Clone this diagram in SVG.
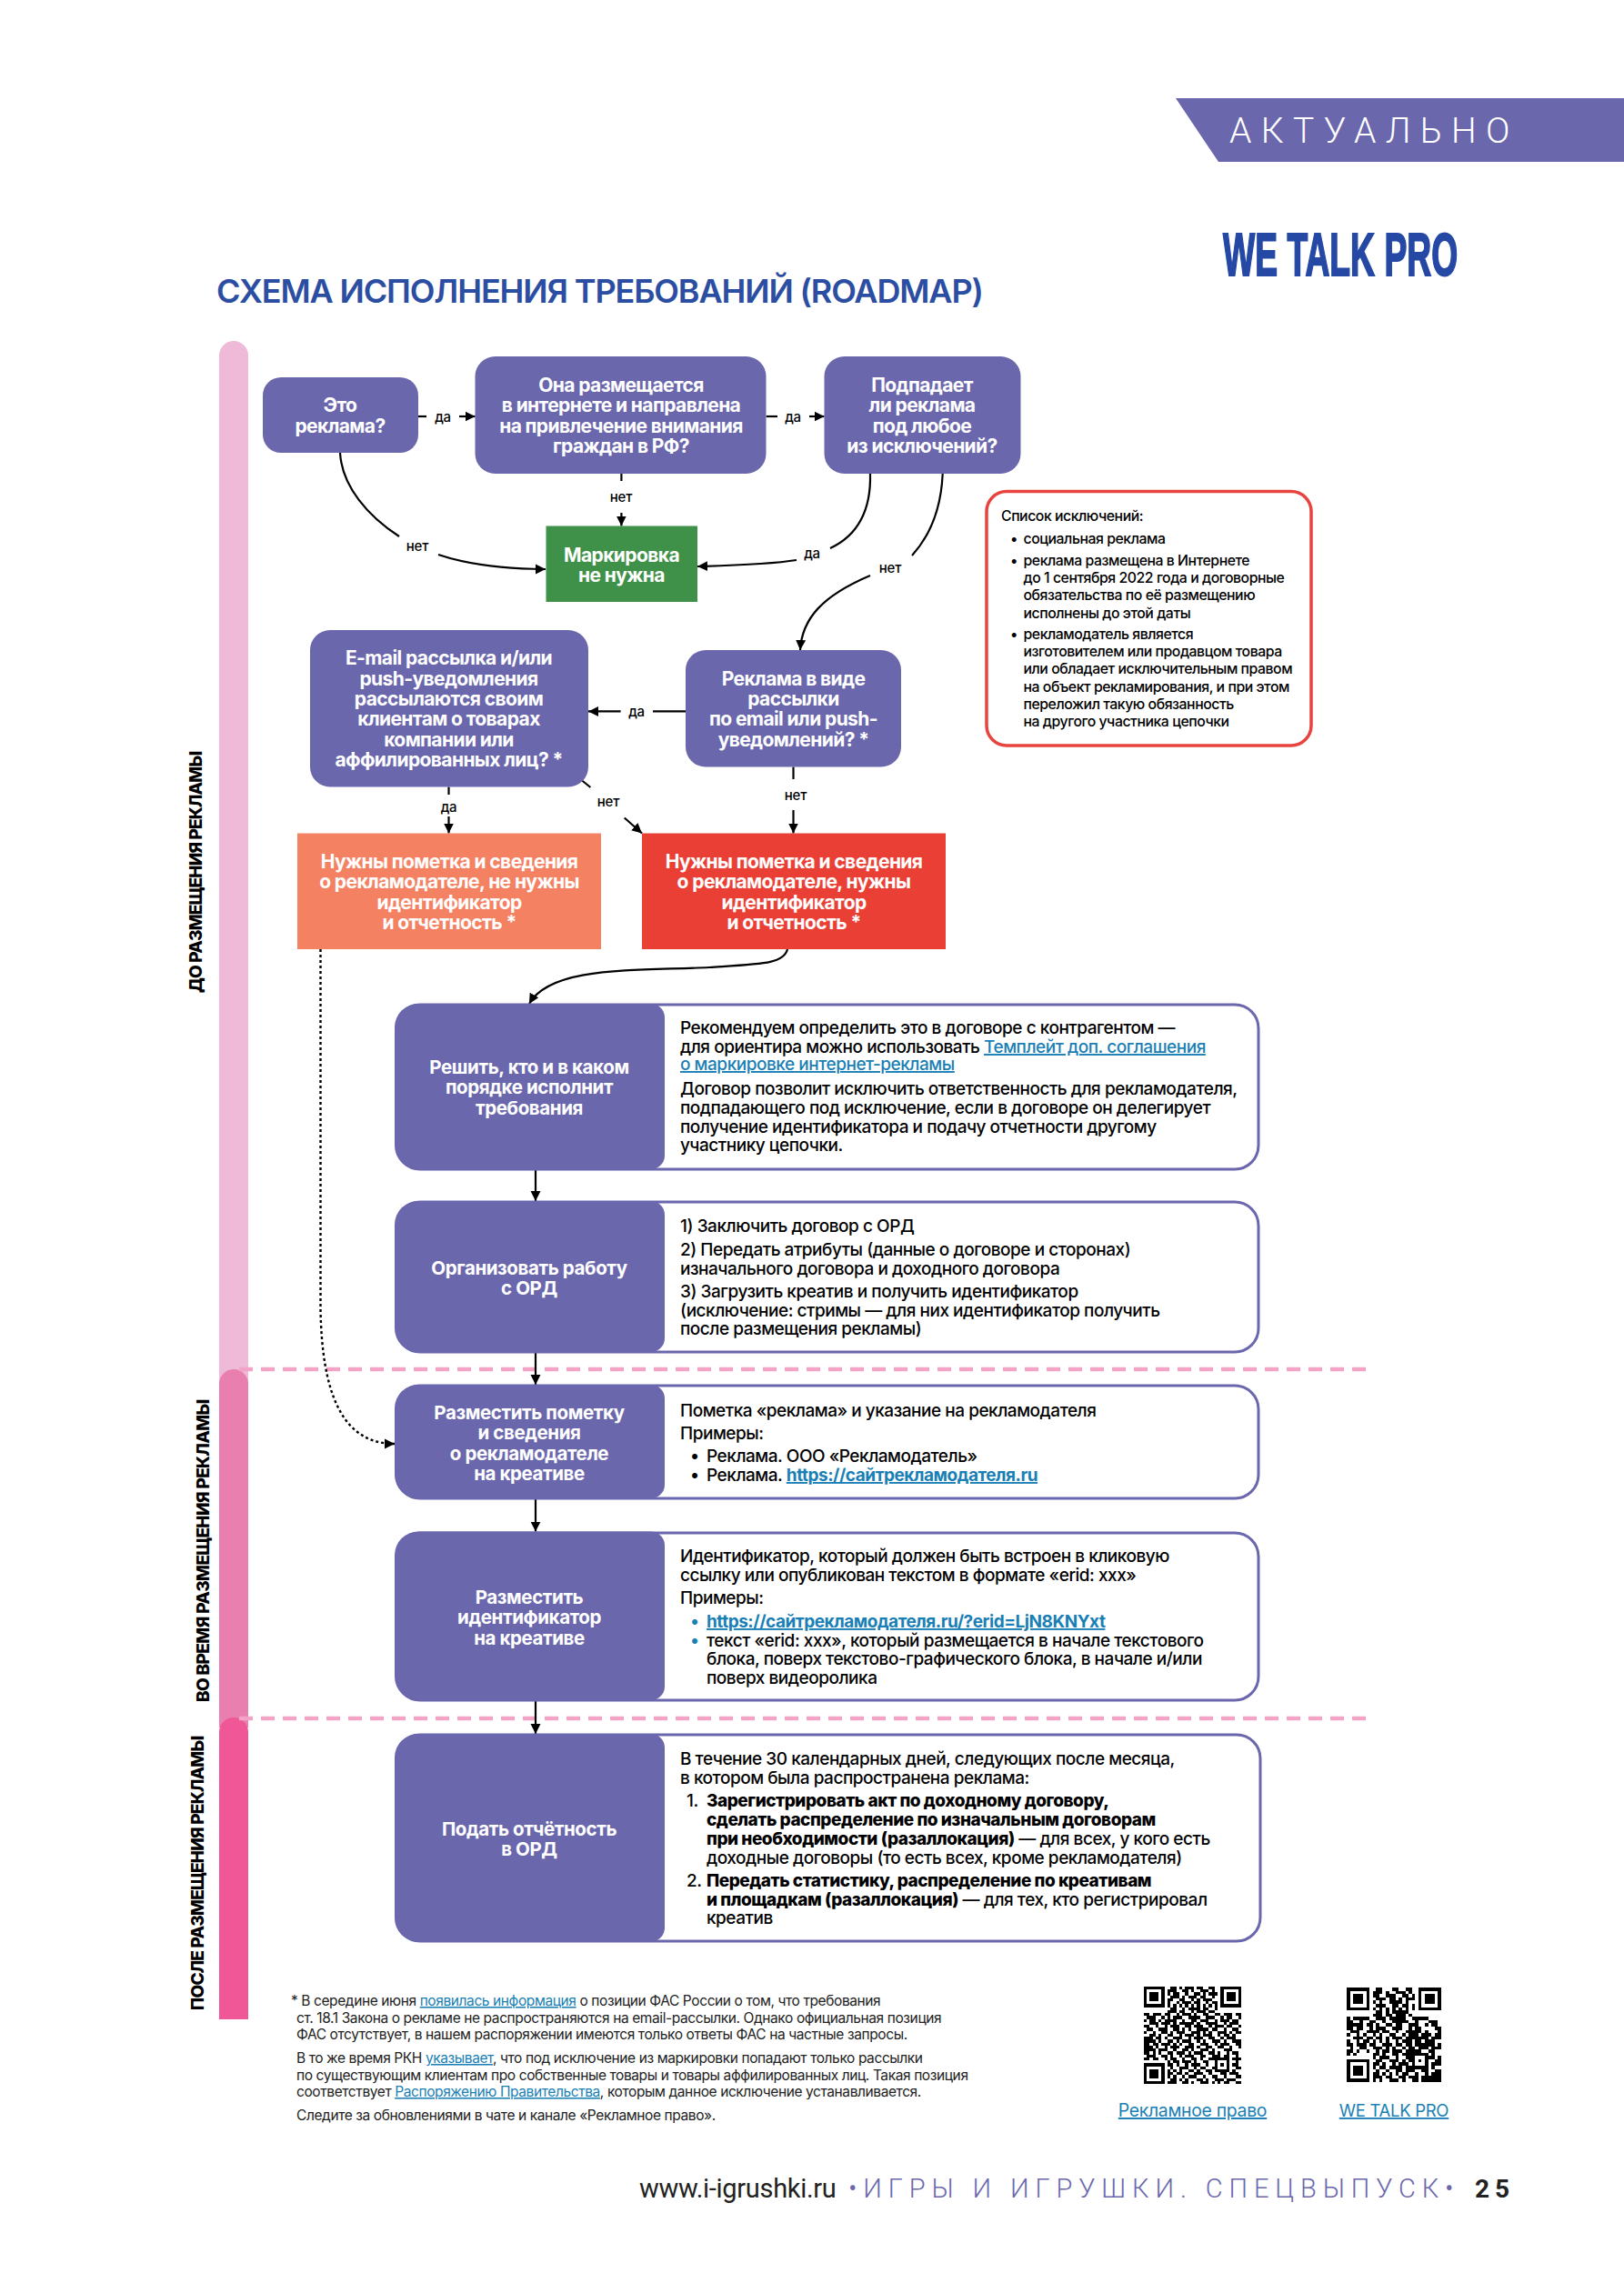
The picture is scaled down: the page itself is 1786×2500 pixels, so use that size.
<svg xmlns="http://www.w3.org/2000/svg" width="1786" height="2500" viewBox="0 0 1786 2500">
<style>
text{font-family:"Inter","Noto Sans",sans-serif;}
.n{font-size:21px;font-weight:700;fill:#fff;text-anchor:middle;letter-spacing:-.6px}
.s{font-size:20.5px;font-weight:700;fill:#fff;text-anchor:middle;letter-spacing:-.4px}
.b{font-size:19px;font-weight:500;fill:#000;letter-spacing:-.47px}
.l{fill:#1a7fb5;text-decoration:underline}
.ll{fill:#1a7fb5;text-decoration:underline;font-weight:700}
.h{font-weight:800}
.e{font-size:15.8px;font-weight:500;fill:#000;letter-spacing:-.45px}
.f{font-size:15.5px;font-weight:400;fill:#222;letter-spacing:-.4px}
.c{font-size:15px;font-weight:500;fill:#000;text-anchor:middle;letter-spacing:-.2px}
.side{font-size:19px;font-weight:800;fill:#000;letter-spacing:-.2px}
.card{fill:#fff;stroke:#6b67ad;stroke-width:3}
.dark{fill:#6b67ad}
.w{fill:none;stroke:#000;stroke-width:2.2}
.dot{fill:none;stroke:#000;stroke-width:2.4;stroke-dasharray:3 3}
.dash{fill:none;stroke:#f3a3c5;stroke-width:4.5;stroke-dasharray:15 9}
</style>
<defs>
<marker id="a" markerUnits="userSpaceOnUse" markerWidth="12" markerHeight="12" refX="11" refY="6" orient="auto"><path d="M0,0.5 L11,6 L0,11.5z" fill="#000"/></marker>
</defs>
<rect width="1786" height="2500" fill="#fff"/>

<g id="banner"><polygon points="1293,108 1786,108 1786,178 1340,178" fill="#6b67ad"/>
<text x="1352" y="157" font-size="39" style="font-family:Roboto,sans-serif;font-weight:300;fill:#fff;letter-spacing:10.4px">АКТУАЛЬНО</text></g>
<g id="logo"><text transform="translate(1345,303) scale(.565,1)" x="0" y="0" font-size="66" style="font-family:'Liberation Sans',sans-serif;font-weight:700;fill:#2548a5;stroke:#2548a5;stroke-width:2">WE TALK PRO</text></g>
<text id="title" x="238" y="333" font-size="36" style="font-weight:600;fill:#2b4ea2;letter-spacing:-1.13px">СХЕМА ИСПОЛНЕНИЯ ТРЕБОВАНИЙ (ROADMAP)</text>

<g id="phases">
<path d="M241,1530V391a16,16 0 0 1 32,0V1530z" fill="#eebad7"/>
<path d="M241,1900V1522a16,16 0 0 1 32,0V1900z" fill="#e87fae"/>
<path d="M241,2221V1905a16,16 0 0 1 32,0V2221z" fill="#ef5796"/>
<text class="side" transform="translate(222,1092) rotate(-90)" textLength="266" lengthAdjust="spacing">ДО РАЗМЕЩЕНИЯ РЕКЛАМЫ</text>
<text class="side" transform="translate(230,1872) rotate(-90)" textLength="333" lengthAdjust="spacing">ВО ВРЕМЯ РАЗМЕЩЕНИЯ РЕКЛАМЫ</text>
<text class="side" transform="translate(224,2211) rotate(-90)" textLength="302" lengthAdjust="spacing">ПОСЛЕ РАЗМЕЩЕНИЯ РЕКЛАМЫ</text>
</g>
<path class="dash" d="M263,1506H1502M263,1890H1502"/>

<g id="connectors">
<path class="w" d="M460,458H469"/><path class="w" marker-end="url(#a)" d="M505,458H522.6"/>
<path class="w" d="M842.6,458H855"/><path class="w" marker-end="url(#a)" d="M890,458H906.5"/>
<path class="w" d="M683.4,521V529"/><path class="w" marker-end="url(#a)" d="M683.4,564V578.5"/>
<path class="w" d="M374,498C376,535 405,568 439,590"/><path class="w" marker-end="url(#a)" d="M482,610C520,623 560,626 600,626"/>
<path class="w" d="M957,521C958,560 945,588 913,603"/><path class="w" marker-end="url(#a)" d="M876,616C845,621 800,622 767,623"/>
<path class="w" d="M1036.7,521C1035,560 1022,590 1003,611"/><path class="w" marker-end="url(#a)" d="M957,633C905,655 882,680 880,715"/>
<path class="w" d="M754,782.4H718"/><path class="w" marker-end="url(#a)" d="M682.6,782.4H647"/>
<path class="w" d="M493.5,865.5V874"/><path class="w" marker-end="url(#a)" d="M493.5,898V916.5"/>
<path class="w" d="M639.5,858L649.4,866"/><path class="w" marker-end="url(#a)" d="M686.7,899.5L706,916.5"/>
<path class="w" d="M872.5,843.5V857"/><path class="w" marker-end="url(#a)" d="M872.5,891V916.5"/>
<path class="w" marker-end="url(#a)" d="M866,1044C862,1060 840,1060 780,1064C700,1068 606,1062 582,1104"/>
<path class="dot" marker-end="url(#a)" d="M352.5,1044V1440C354,1530 375,1588 434,1588"/>
<path class="w" marker-end="url(#a)" d="M589,1285.6V1321"/>
<path class="w" marker-end="url(#a)" d="M589,1487V1523"/>
<path class="w" marker-end="url(#a)" d="M589,1648V1684.6"/>
<path class="w" marker-end="url(#a)" d="M589,1870V1907"/>
<text class="c" x="487" y="464">да</text>
<text class="c" x="872" y="464">да</text>
<text class="c" x="683" y="552">нет</text>
<text class="c" x="459" y="606">нет</text>
<text class="c" x="893" y="614">да</text>
<text class="c" x="979" y="630">нет</text>
<text class="c" x="700" y="788">да</text>
<text class="c" x="493.5" y="893">да</text>
<text class="c" x="669" y="887">нет</text>
<text class="c" x="875" y="880">нет</text>
</g>

<g id="q1"><rect class="dark" x="289" y="415" width="171" height="83" rx="20"/><text class="n" x="374" y="453">Это</text><text class="n" x="374" y="476">реклама?</text></g>
<g id="q2"><rect class="dark" x="522.5" y="392" width="320" height="129" rx="22"/>
<text class="n" x="683" y="431">Она размещается</text><text class="n" x="683" y="453">в интернете и направлена</text><text class="n" x="683" y="476">на привлечение внимания</text><text class="n" x="683" y="498">граждан в РФ?</text></g>
<g id="q3"><rect class="dark" x="906.5" y="392" width="216" height="129" rx="22"/>
<text class="n" x="1014" y="431">Подпадает</text><text class="n" x="1014" y="453">ли реклама</text><text class="n" x="1014" y="476">под любое</text><text class="n" x="1014" y="498">из исключений?</text></g>
<g id="nomark"><rect x="600.5" y="578.5" width="166.5" height="83.5" fill="#3f9149"/>
<text class="n" x="683.5" y="618">Маркировка</text><text class="n" x="683.5" y="640">не нужна</text></g>
<g id="exceptions"><rect x="1085" y="540.5" width="357" height="279.5" rx="22" fill="#fff" stroke="#e8433f" stroke-width="3.5"/>
<text class="e" x="1101" y="573">Список исключений:</text>
<text class="e" x="1111" y="598">•</text><text class="e" x="1125.5" y="598">социальная реклама</text>
<text class="e" x="1111" y="622">•</text><text class="e" x="1125.5" y="622">реклама размещена в Интернете</text>
<text class="e" x="1125.5" y="641">до 1 сентября 2022 года и договорные</text>
<text class="e" x="1125.5" y="660">обязательства по её размещению</text>
<text class="e" x="1125.5" y="680">исполнены до этой даты</text>
<text class="e" x="1111" y="703">•</text><text class="e" x="1125.5" y="703">рекламодатель является</text>
<text class="e" x="1125.5" y="722">изготовителем или продавцом товара</text>
<text class="e" x="1125.5" y="741">или обладает исключительным правом</text>
<text class="e" x="1125.5" y="761">на объект рекламирования, и при этом</text>
<text class="e" x="1125.5" y="780">переложил такую обязанность</text>
<text class="e" x="1125.5" y="799">на другого участника цепочки</text></g>
<g id="email"><rect class="dark" x="341" y="693" width="306" height="172.5" rx="22"/>
<text class="n" x="493.5" y="731">E-mail рассылка и/или</text><text class="n" x="493.5" y="754">push-уведомления</text><text class="n" x="493.5" y="776">рассылаются своим</text><text class="n" x="493.5" y="798">клиентам о товарах</text><text class="n" x="493.5" y="821">компании или</text><text class="n" x="493.5" y="843">аффилированных лиц? *</text></g>
<g id="mailing"><rect class="dark" x="754" y="715" width="237" height="128.5" rx="22"/>
<text class="n" x="872.5" y="754">Реклама в виде</text><text class="n" x="872.5" y="776">рассылки</text><text class="n" x="872.5" y="798">по email или push-</text><text class="n" x="872.5" y="821">уведомлений? *</text></g>
<g id="need1"><rect x="327" y="916.5" width="334" height="127.5" fill="#f58163"/>
<text class="n" x="494" y="955">Нужны пометка и сведения</text><text class="n" x="494" y="977">о рекламодателе, не нужны</text><text class="n" x="494" y="1000">идентификатор</text><text class="n" x="494" y="1022">и отчетность *</text></g>
<g id="need2"><rect x="706" y="916.5" width="334" height="127.5" fill="#ea3f35"/>
<text class="n" x="873" y="955">Нужны пометка и сведения</text><text class="n" x="873" y="977">о рекламодателе, нужны</text><text class="n" x="873" y="1000">идентификатор</text><text class="n" x="873" y="1022">и отчетность *</text></g>

<g id="step1"><rect class="card" x="436" y="1105" width="948" height="181" rx="26"/>
<path class="dark" d="M460,1104H716a15,15 0 0 1 15,15V1271a15,15 0 0 1 -15,15H460a26,26 0 0 1 -26,-26V1130a26,26 0 0 1 26,-26z"/>
<text class="s" x="582" y="1181">Решить, кто и в каком</text><text class="s" x="582" y="1203">порядке исполнит</text><text class="s" x="582" y="1226">требования</text>
<text class="b" x="748" y="1137">Рекомендуем определить это в договоре с контрагентом —</text>
<text class="b" x="748" y="1158">для ориентира можно использовать <tspan class="l">Темплейт доп. соглашения</tspan></text>
<text class="b" x="748" y="1177"><tspan class="l">о маркировке интернет-рекламы</tspan></text>
<text class="b" x="748" y="1204">Договор позволит исключить ответственность для рекламодателя,</text>
<text class="b" x="748" y="1225">подпадающего под исключение, если в договоре он делегирует</text>
<text class="b" x="748" y="1246">получение идентификатора и подачу отчетности другому</text>
<text class="b" x="748" y="1266">участнику цепочки.</text></g>
<g id="step2"><rect class="card" x="436" y="1322" width="948" height="165" rx="26"/>
<path class="dark" d="M460,1321H716a15,15 0 0 1 15,15V1472a15,15 0 0 1 -15,15H460a26,26 0 0 1 -26,-26V1347a26,26 0 0 1 26,-26z"/>
<text class="s" x="582" y="1402">Организовать работу</text><text class="s" x="582" y="1424">с ОРД</text>
<text class="b" x="748" y="1355">1) Заключить договор с ОРД</text>
<text class="b" x="748" y="1381">2) Передать атрибуты (данные о договоре и сторонах)</text>
<text class="b" x="748" y="1402">изначального договора и доходного договора</text>
<text class="b" x="748" y="1427">3) Загрузить креатив и получить идентификатор</text>
<text class="b" x="748" y="1448">(исключение: стримы — для них идентификатор получить</text>
<text class="b" x="748" y="1468">после размещения рекламы)</text></g>
<g id="step3"><rect class="card" x="436" y="1524" width="948" height="124" rx="26"/>
<path class="dark" d="M460,1523H716a15,15 0 0 1 15,15V1633a15,15 0 0 1 -15,15H460a26,26 0 0 1 -26,-26V1549a26,26 0 0 1 26,-26z"/>
<text class="s" x="582" y="1561">Разместить пометку</text><text class="s" x="582" y="1583">и сведения</text><text class="s" x="582" y="1606">о рекламодателе</text><text class="s" x="582" y="1628">на креативе</text>
<text class="b" x="748" y="1558">Пометка «реклама» и указание на рекламодателя</text>
<text class="b" x="748" y="1583">Примеры:</text>
<text class="b" x="759" y="1608">•</text><text class="b" x="777" y="1608">Реклама. ООО «Рекламодатель»</text>
<text class="b" x="759" y="1629">•</text><text class="b" x="777" y="1629">Реклама. <tspan class="ll">https://сайтрекламодателя.ru</tspan></text></g>
<g id="step4"><rect class="card" x="436" y="1686" width="948" height="184" rx="26"/>
<path class="dark" d="M460,1684.5H716a15,15 0 0 1 15,15V1855a15,15 0 0 1 -15,15H460a26,26 0 0 1 -26,-26V1710.5a26,26 0 0 1 26,-26z"/>
<text class="s" x="582" y="1764">Разместить</text><text class="s" x="582" y="1786">идентификатор</text><text class="s" x="582" y="1809">на креативе</text>
<text class="b" x="748" y="1718">Идентификатор, который должен быть встроен в кликовую</text>
<text class="b" x="748" y="1739">ссылку или опубликован текстом в формате «erid: xxx»</text>
<text class="b" x="748" y="1764">Примеры:</text>
<text class="b" x="759" y="1790" style="fill:#1a7fb5">•</text><text class="b" x="777" y="1790"><tspan class="ll">https://сайтрекламодателя.ru/?erid=LjN8KNYxt</tspan></text>
<text class="b" x="759" y="1811" style="fill:#1a7fb5">•</text><text class="b" x="777" y="1811">текст «erid: xxx», который размещается в начале текстового</text>
<text class="b" x="777" y="1831">блока, поверх текстово-графического блока, в начале и/или</text>
<text class="b" x="777" y="1852">поверх видеоролика</text></g>
<g id="step5"><rect class="card" x="436" y="1908" width="950" height="227" rx="26"/>
<path class="dark" d="M460,1907H716a15,15 0 0 1 15,15V2120.5a15,15 0 0 1 -15,15H460a26,26 0 0 1 -26,-26V1933a26,26 0 0 1 26,-26z"/>
<text class="s" x="582" y="2019">Подать отчётность</text><text class="s" x="582" y="2041">в ОРД</text>
<text class="b" x="748" y="1941">В течение 30 календарных дней, следующих после месяца,</text>
<text class="b" x="748" y="1962">в котором была распространена реклама:</text>
<text class="b" x="755" y="1987">1.</text><text class="b" x="777" y="1987"><tspan class="h">Зарегистрировать акт по доходному договору,</tspan></text>
<text class="b" x="777" y="2008"><tspan class="h">сделать распределение по изначальным договорам</tspan></text>
<text class="b" x="777" y="2029"><tspan class="h">при необходимости (разаллокация)</tspan> — для всех, у кого есть</text>
<text class="b" x="777" y="2050">доходные договоры (то есть всех, кроме рекламодателя)</text>
<text class="b" x="755" y="2075">2.</text><text class="b" x="777" y="2075"><tspan class="h">Передать статистику, распределение по креативам</tspan></text>
<text class="b" x="777" y="2096"><tspan class="h">и площадкам (разаллокация)</tspan> — для тех, кто регистрировал</text>
<text class="b" x="777" y="2116">креатив</text></g>

<g id="footnote">
<text class="f" x="320" y="2206">* В середине июня <tspan class="l">появилась информация</tspan> о позиции ФАС России о том, что требования</text>
<text class="f" x="326" y="2225">ст. 18.1 Закона о рекламе не распространяются на email-рассылки. Однако официальная позиция</text>
<text class="f" x="326" y="2243">ФАС отсутствует, в нашем распоряжении имеются только ответы ФАС на частные запросы.</text>
<text class="f" x="326" y="2269">В то же время РКН <tspan class="l">указывает</tspan>, что под исключение из маркировки попадают только рассылки</text>
<text class="f" x="326" y="2288">по существующим клиентам про собственные товары и товары аффилированных лиц. Такая позиция</text>
<text class="f" x="326" y="2306">соответствует <tspan class="l">Распоряжению Правительства</tspan>, которым данное исключение устанавливается.</text>
<text class="f" x="326" y="2332">Следите за обновлениями в чате и канале «Рекламное право».</text>
</g>

<g id="qr1" transform="translate(1258,2185) scale(3.242)" fill="none" stroke="#000" stroke-width="1" shape-rendering="crispEdges">
<path d="M.5,.5h6v6h-6zM26.5,.5h6v6h-6zM.5,26.5h6v6h-6z"/><path fill="#000" stroke="none" d="M2,2h3v3h-3zM28,2h3v3h-3zM2,28h3v3h-3z"/>
<path d="M9,.5h2M12,.5h1M14,.5h3M18,.5h2M22,.5h2M8,1.5h3M13,1.5h2M16,1.5h1M19,1.5h3M23,1.5h1M8,2.5h1M10,2.5h2M14,2.5h1M17,2.5h2M20,2.5h1M22,2.5h3M9,3.5h3M13,3.5h1M15,3.5h3M19,3.5h2M23,3.5h1M8,4.5h2M12,4.5h2M16,4.5h1M18,4.5h1M20,4.5h3M8,5.5h1M11,5.5h1M13,5.5h3M17,5.5h2M21,5.5h1M23,5.5h2M8,6.5h1M10,6.5h1M12,6.5h1M14,6.5h1M16,6.5h1M18,6.5h1M20,6.5h1M22,6.5h1M24,6.5h1M9,7.5h2M13,7.5h1M15,7.5h4M20,7.5h2M24,7.5h1M8,8.5h3M12,8.5h2M16,8.5h1M18,8.5h3M22,8.5h2M0,9.5h2M3,9.5h3M7,9.5h2M11,9.5h1M13,9.5h3M17,9.5h1M20,9.5h2M24,9.5h2M27,9.5h3M31,9.5h2M1,10.5h3M6,10.5h1M8,10.5h1M10,10.5h3M15,10.5h4M21,10.5h3M26,10.5h1M28,10.5h2M32,10.5h1M0,11.5h1M2,11.5h2M5,11.5h1M7,11.5h4M13,11.5h1M16,11.5h2M19,11.5h3M24,11.5h1M26,11.5h3M30,11.5h2M2,12.5h3M6,12.5h3M10,12.5h1M12,12.5h5M18,12.5h1M21,12.5h4M27,12.5h1M29,12.5h3M0,13.5h2M4,13.5h1M7,13.5h1M9,13.5h3M14,13.5h2M17,13.5h3M22,13.5h1M24,13.5h3M28,13.5h2M32,13.5h1M1,14.5h2M5,14.5h3M10,14.5h2M13,14.5h1M15,14.5h1M18,14.5h4M23,14.5h2M27,14.5h1M30,14.5h2M0,15.5h1M3,15.5h1M6,15.5h2M9,15.5h1M11,15.5h3M16,15.5h3M20,15.5h1M22,15.5h1M25,15.5h3M29,15.5h1M31,15.5h2M2,16.5h2M5,16.5h1M8,16.5h2M12,16.5h1M14,16.5h3M18,16.5h1M20,16.5h3M25,16.5h1M27,16.5h2M30,16.5h1M0,17.5h3M4,17.5h2M7,17.5h1M10,17.5h3M15,17.5h1M17,17.5h3M22,17.5h2M26,17.5h1M28,17.5h3M0,18.5h4M5,18.5h1M8,18.5h2M11,18.5h1M13,18.5h3M18,18.5h1M20,18.5h1M23,18.5h3M27,18.5h1M30,18.5h3M0,19.5h2M3,19.5h2M6,19.5h3M10,19.5h1M12,19.5h1M15,19.5h2M19,19.5h3M24,19.5h1M26,19.5h3M31,19.5h2M0,20.5h3M4,20.5h1M7,20.5h1M9,20.5h3M14,20.5h3M18,20.5h1M21,20.5h2M25,20.5h2M29,20.5h1M32,20.5h1M0,21.5h4M5,21.5h3M10,21.5h1M13,21.5h2M16,21.5h1M19,21.5h3M23,21.5h1M27,21.5h3M0,22.5h2M3,22.5h1M5,22.5h1M8,22.5h2M11,22.5h3M15,22.5h1M17,22.5h3M22,22.5h2M25,22.5h1M28,22.5h1M30,22.5h2M1,23.5h3M6,23.5h2M9,23.5h1M12,23.5h1M14,23.5h3M19,23.5h2M23,23.5h3M27,23.5h2M31,23.5h1M0,24.5h2M3,24.5h2M7,24.5h1M9,24.5h2M13,24.5h1M16,24.5h2M19,24.5h1M22,24.5h2M24,24.5h5M30,24.5h3M8,25.5h1M10,25.5h2M13,25.5h3M17,25.5h1M20,25.5h2M24,25.5h1M28,25.5h1M31,25.5h1M8,26.5h2M11,26.5h1M14,26.5h1M16,26.5h3M21,26.5h1M24,26.5h1M26,26.5h1M28,26.5h1M30,26.5h2M9,27.5h1M12,27.5h3M17,27.5h1M19,27.5h2M23,27.5h2M28,27.5h1M31,27.5h2M8,28.5h1M10,28.5h1M12,28.5h1M15,28.5h2M18,28.5h1M21,28.5h2M24,28.5h5M30,28.5h1M8,29.5h2M11,29.5h2M14,29.5h1M17,29.5h3M22,29.5h1M26,29.5h2M29,29.5h3M8,30.5h1M10,30.5h1M13,30.5h1M15,30.5h3M20,30.5h1M23,30.5h2M27,30.5h1M31,30.5h2M9,31.5h2M12,31.5h1M14,31.5h1M18,31.5h2M21,31.5h1M24,31.5h3M28,31.5h3M8,32.5h3M13,32.5h2M16,32.5h1M19,32.5h3M23,32.5h1M25,32.5h1M27,32.5h2M31,32.5h2"/></g>

<g id="qr2" transform="translate(1481,2186) scale(3.586)" fill="none" stroke="#000" stroke-width="1" shape-rendering="crispEdges">
<path d="M.5,.5h6v6h-6zM22.5,.5h6v6h-6zM.5,22.5h6v6h-6z"/><path fill="#000" stroke="none" d="M2,2h3v3h-3zM24,2h3v3h-3zM2,24h3v3h-3z"/>
<path d="M9,.5h2M14,.5h2M18,.5h2M8,1.5h3M12,1.5h1M15,1.5h3M19,1.5h1M8,2.5h2M12,2.5h3M17,2.5h2M20,2.5h1M9,3.5h2M11,3.5h1M13,3.5h2M16,3.5h1M18,3.5h3M8,4.5h1M10,4.5h1M13,4.5h4M18,4.5h1M9,5.5h3M14,5.5h2M17,5.5h2M20,5.5h1M8,6.5h1M10,6.5h1M12,6.5h1M14,6.5h1M16,6.5h1M18,6.5h1M20,6.5h1M9,7.5h2M12,7.5h1M14,7.5h5M8,8.5h3M12,8.5h2M15,8.5h3M19,8.5h1M0,9.5h1M2,9.5h4M6,9.5h1M9,9.5h3M13,9.5h5M20,9.5h5M0,10.5h2M4,10.5h1M7,10.5h2M11,10.5h1M14,10.5h5M21,10.5h1M25,10.5h3M0,11.5h5M6,11.5h2M9,11.5h1M12,11.5h2M15,11.5h2M19,11.5h3M24,11.5h1M26,11.5h2M0,12.5h2M3,12.5h2M7,12.5h1M9,12.5h3M14,12.5h3M19,12.5h1M21,12.5h2M27,12.5h2M1,13.5h3M6,13.5h4M11,13.5h2M15,13.5h1M18,13.5h5M24,13.5h1M28,13.5h1M0,14.5h1M3,14.5h1M5,14.5h1M8,14.5h1M10,14.5h1M13,14.5h2M17,14.5h1M19,14.5h3M23,14.5h3M27,14.5h2M2,15.5h3M6,15.5h2M9,15.5h2M12,15.5h1M14,15.5h3M18,15.5h7M26,15.5h3M0,16.5h1M3,16.5h1M5,16.5h2M8,16.5h1M10,16.5h1M12,16.5h1M15,16.5h1M17,16.5h3M21,16.5h2M24,16.5h3M0,17.5h2M3,17.5h3M7,17.5h2M11,17.5h3M15,17.5h2M18,17.5h2M21,17.5h6M28,17.5h1M1,18.5h1M4,18.5h2M8,18.5h3M12,18.5h1M14,18.5h1M17,18.5h1M19,18.5h2M22,18.5h3M26,18.5h3M0,19.5h2M3,19.5h1M6,19.5h1M9,19.5h1M11,19.5h2M14,19.5h3M18,19.5h5M25,19.5h2M0,20.5h1M2,20.5h1M8,20.5h2M11,20.5h1M14,20.5h2M17,20.5h3M20,20.5h5M26,20.5h1M8,21.5h1M10,21.5h3M15,21.5h1M18,21.5h2M20,21.5h1M24,21.5h3M28,21.5h1M9,22.5h2M13,22.5h3M17,22.5h1M19,22.5h2M22,22.5h1M24,22.5h1M27,22.5h2M8,23.5h2M11,23.5h1M14,23.5h1M16,23.5h3M20,23.5h1M24,23.5h1M26,23.5h3M8,24.5h1M10,24.5h2M13,24.5h4M18,24.5h2M20,24.5h5M26,24.5h1M9,25.5h1M12,25.5h1M15,25.5h2M18,25.5h3M23,25.5h2M27,25.5h2M8,26.5h2M11,26.5h1M13,26.5h1M15,26.5h1M17,26.5h2M21,26.5h1M24,26.5h1M26,26.5h3M8,27.5h3M12,27.5h2M16,27.5h2M19,27.5h3M23,27.5h6M8,28.5h1M10,28.5h1M13,28.5h3M17,28.5h1M20,28.5h2M23,28.5h6"/></g>
<text id="link1" x="1311.5" y="2328" font-size="19.4" text-anchor="middle" class="l" style="font-weight:400;letter-spacing:-.3px">Рекламное право</text>
<text id="link2" x="1533" y="2328" font-size="18.5" text-anchor="middle" class="l" style="font-weight:400;letter-spacing:-.3px">WE TALK PRO</text>

<g id="footer">
<text x="703" y="2417" font-size="29" style="font-family:Roboto,sans-serif;fill:#222;letter-spacing:-.3px">www.i-igrushki.ru</text>
<text x="933" y="2417" font-size="29" style="font-family:Roboto,sans-serif;font-weight:300;fill:#6b67ad;letter-spacing:6.9px">•ИГРЫ И ИГРУШКИ. СПЕЦВЫПУСК•</text>
<text x="1622" y="2417" font-size="28" style="font-family:Roboto,sans-serif;font-weight:700;fill:#222;letter-spacing:6px">25</text>
</g>
</svg>
